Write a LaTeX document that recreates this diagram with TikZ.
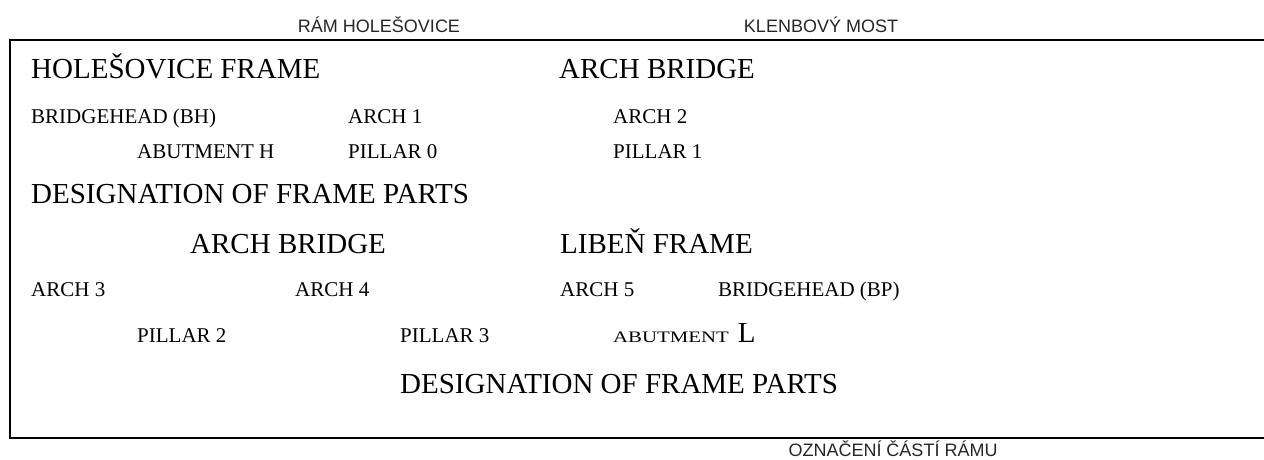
\documentclass[tikz,border=0pt]{standalone}
\usepackage{fontspec}
\setmainfont{Liberation Serif}
\newfontfamily\czsans{Liberation Sans}
\usetikzlibrary{positioning}
\tikzset{
  bigtxt/.style={anchor=base west,inner sep=0pt,font=\fontsize{29}{32}\selectfont},
  smalltxt/.style={anchor=base west,inner sep=0pt,font=\fontsize{21}{23}\selectfont},
  cztxt/.style={anchor=base,inner sep=0pt,font=\czsans\fontsize{18}{20}\selectfont,black!85},
  frameline/.style={line width=2pt,black}
}
\begin{document}
\begin{tikzpicture}[x=1pt,y=-1pt]
\useasboundingbox (0,0) rectangle (1264,460);
% czech captions
\node[cztxt] (ramhol) at (379,33) {RÁM HOLEŠOVICE};
\node[cztxt] (klenb) at (821,33) {KLENBOVÝ MOST};
\node[cztxt] (oznac) at (893,456) {OZNAČENÍ ČÁSTÍ RÁMU};
% frame, open on the right
\coordinate (tr) at (1264,40);
\coordinate (tl) at (10,40);
\coordinate (bl) at (10,438);
\coordinate (br) at (1264,438);
\draw[frameline] (tr) -- (tl) -- (bl) -- (br);
% first half
\node[bigtxt] (holframe) at (31,78) {HOLEŠOVICE FRAME};
\node[bigtxt] (archbrA) at (559,78) {ARCH BRIDGE};
\node[smalltxt] (bhead) at (31,123) {BRIDGEHEAD (BH)};
\node[smalltxt] (arch1) at (348,123) {ARCH 1};
\node[smalltxt] (arch2) at (613,123) {ARCH 2};
\node[smalltxt] (abutH) at (137,158) {ABUTMENT H};
\node[smalltxt] (pil0) at (348,158) {PILLAR 0};
\node[smalltxt] (pil1) at (613,158) {PILLAR 1};
\node[bigtxt] (desigA) at (31,203) {DESIGNATION OF FRAME PARTS};
% second half
\node[bigtxt] (archbrB) at (190,253) {ARCH BRIDGE};
\node[bigtxt] (libframe) at (560,253) {LIBEŇ FRAME};
\node[smalltxt] (arch3) at (31,296) {ARCH 3};
\node[smalltxt] (arch4) at (295,296) {ARCH 4};
\node[smalltxt] (arch5) at (560,296) {ARCH 5};
\node[smalltxt] (bpead) at (718,296) {BRIDGEHEAD (BP)};
\node[smalltxt] (pil2) at (137,342) {PILLAR 2};
\node[smalltxt] (pil3) at (400,342) {PILLAR 3};
\node[smalltxt] (abutL) at (613,342) {{\fontsize{16}{18}\selectfont\scalebox{1.3}[1]{ABUTMENT}}\hspace{9pt}{\fontsize{29}{32}\selectfont L}};
\node[bigtxt] (desigB) at (400,393) {DESIGNATION OF FRAME PARTS};
\end{tikzpicture}
\end{document}
